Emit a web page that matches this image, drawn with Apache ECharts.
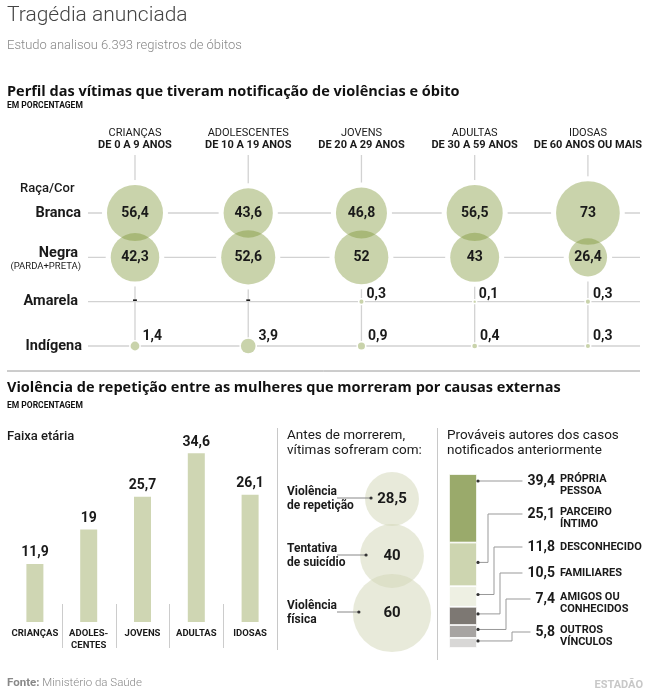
<!DOCTYPE html>
<html><head><meta charset="utf-8">
<script src="https://cdn.jsdelivr.net/npm/echarts@6/dist/echarts.min.js"></script>
<style>html,body{margin:0;padding:0;background:#fff}#c{width:657px;height:697px}</style>
</head><body><div id="c"></div>
<script>
// ---------- DATA ----------
const ageGroups = ['CRIANÇAS','ADOLESCENTES','JOVENS','ADULTAS','IDOSAS'];
const ageRanges = ['DE 0 A 9 ANOS','DE 10 A 19 ANOS','DE 20 A 29 ANOS','DE 30 A 59 ANOS','DE 60 ANOS OU MAIS'];
const races = ['Branca','Negra','Amarela','Indígena'];
const branca = [56.4,43.6,46.8,56.5,73];
const negra = [42.3,52.6,52,43,26.4];
const amarela = [null,null,0.3,0.1,0.3];
const indigena = [1.4,3.9,0.9,0.4,0.3];
const barCats = ['CRIANÇAS','ADOLES-\nCENTES','JOVENS','ADULTAS','IDOSAS'];
const barVals = [11.9,19,25.7,34.6,26.1];
const priorCats = ['Violência\nde repetição','Tentativa\nde suicídio','Violência\nfísica'];
const priorVals = [28.5,40,60];
const authorCats = ['PRÓPRIA\nPESSOA','PARCEIRO\nÍNTIMO','DESCONHECIDO','FAMILIARES','AMIGOS OU\nCONHECIDOS','OUTROS\nVÍNCULOS'];
const authorVals = [39.4,25.1,11.8,10.5,7.4,5.8];

// ---------- HELPERS ----------
const FF = 'Roboto';
const fmt = v => String(v).replace('.', ',');
const mctx = document.createElement('canvas').getContext('2d');
const tw = (t, font) => { mctx.font = font; return mctx.measureText(t).width; };
const DARK = '#1a1a1a';
const authorColors = ['#9aaa6b','#cdd5b0','#eef0e3','#7d7873','#a7a4a2','#d8d7d6'];

const chart = echarts.init(document.getElementById('c'), null, {renderer:'canvas'});

const rows = [branca, negra, amarela, indigena];
const topSize = v => v > 0 ? 7.46 * Math.sqrt(v) : 0;
const topPoints = [];
rows.forEach((arr, r) => arr.forEach((v, i) => topPoints.push([i, r, v == null ? 0 : v])));
const smallOffsets = {2: -7, 3: -10};

const series = [];
// halos
series.push({
  type:'scatter', xAxisIndex:0, yAxisIndex:0, z:2, silent:true,
  data: topPoints,
  symbolSize: val => { const d = topSize(val[2]); return d === 0 ? 0 : (d > 20 ? d + 10 : d + 3); },
  itemStyle:{color:'#fff', opacity:1}
});
rows.forEach((arr, r) => {
  series.push({
    type:'scatter', name: races[r], xAxisIndex:0, yAxisIndex:0, z:3, silent:true,
    data: arr.map((v, i) => {
      const item = {value:[i, r, v == null ? 0 : v], missing: v == null};
      if (v == null) item.label = {position:'inside', offset:[0,0]};
      return item;
    }),
    symbolSize: val => topSize(val[2]),
    itemStyle:{color:'rgba(120,145,45,0.4)', opacity:1},
    label:{
      show:true, opacity:1,
      position: r < 2 ? 'inside' : 'right',
      distance: 3,
      offset: r < 2 ? [0,0] : [0, smallOffsets[r]],
      color: DARK, fontFamily: FF, fontWeight:'bold', fontSize:14,
      formatter: p => p.data.missing ? '-' : fmt(p.value[2])
    }
  });
});
// bar chart
series.push({
  type:'bar', xAxisIndex:1, yAxisIndex:1, data: barVals, barWidth:17, silent:true,
  itemStyle:{color:'#cfd6b3'},
  label:{show:true, position:'top', distance:4, color:DARK, fontFamily:FF, fontWeight:'bold', fontSize:14, formatter:p => fmt(p.value)}
});
// prior bubbles
series.push({
  type:'scatter', xAxisIndex:2, yAxisIndex:2, silent:true, z:3,
  data: priorVals.map((v, i) => [0, i, v]),
  symbolSize: val => 10.1 * Math.sqrt(val[2]),
  itemStyle:{color:'rgba(209,213,181,0.5)', opacity:1},
  label:{show:true, opacity:1, position:'inside', color:DARK, fontFamily:FF, fontWeight:'bold', fontSize:15, formatter:p => fmt(p.value[2])}
});
// stacked authors
authorVals.forEach((v, i) => {
  series.push({
    type:'bar', xAxisIndex:3, yAxisIndex:3, stack:'a', barWidth:28, silent:true,
    data:[v], itemStyle:{color:authorColors[i], borderColor:'#fff', borderWidth:0.8}
  });
});

chart.setOption({
  animation:false,
  backgroundColor:'#fff',
  grid:[
    {left:88, top:213, width:552, height:133},
    {left:8, top:427, width:269, height:195},
    {left:352, top:499, width:80, height:114},
    {left:449, top:474, width:28, height:174}
  ],
  xAxis:[
    {gridIndex:0, type:'value', min:-0.415, max:4.46, show:false},
    {gridIndex:1, type:'category', data:barCats, axisLine:{show:false}, axisTick:{show:false},
      axisLabel:{interval:0, margin:6, color:DARK, fontFamily:FF, fontWeight:'bold', fontSize:9.5, lineHeight:12, verticalAlign:'top'}},
    {gridIndex:2, type:'category', data:['x'], show:false},
    {gridIndex:3, type:'category', data:['x'], show:false}
  ],
  yAxis:[
    {gridIndex:0, type:'value', min:0, max:3, inverse:true, show:false},
    {gridIndex:1, type:'value', min:0, max:40, show:false},
    {gridIndex:2, type:'category', data:priorCats, inverse:true, boundaryGap:false, show:false},
    {gridIndex:3, type:'value', min:0, max:100, inverse:true, show:false}
  ],
  series
});

// ---------- ANNOTATIONS ----------
const G = [];
const text = (t, x, y, font, opts={}) => G.push({type:'text', z:10, silent:true,
  style:Object.assign({text:t, x, y, font, fill:DARK, textAlign:'left', textVerticalAlign:'middle'}, opts)});
const line = (x1,y1,x2,y2,stroke,lw=1,z=1) => G.push({type:'line', z, silent:true, shape:{x1,y1,x2,y2}, style:{stroke, lineWidth:lw}});

const HF = `bold 14.5px "Open Sans"`;
text('Tragédia anunciada', 7, 16, `300 21px ${FF}`, {fill:'#444'});
text('Estudo analisou 6.393 registros de óbitos', 7, 46, `300 13px ${FF}`, {fill:'#888'});
text('Perfil das vítimas que tiveram notificação de violências e óbito', 7, 92, HF, {fill:'#111'});
text('EM PORCENTAGEM', 7, 106, `bold 8.5px ${FF}`, {fill:'#111'});

// top grid lines
const p0 = (x, y) => chart.convertToPixel({gridIndex:0}, [x, y]);
const gridL = 88, gridR = 640;
races.forEach((_, r) => { const y = p0(0, r)[1]; line(gridL, y, gridR, y, '#d2d2d2', 1.3); });
ageGroups.forEach((g, i) => {
  const x = p0(i, 0)[0];
  line(x, 155, x, p0(i, 3)[1], '#d2d2d2', 1.3);
  text(g, x, 133, `11px ${FF}`, {textAlign:'center'});
  text(ageRanges[i], x, 145, `bold 11px ${FF}`, {textAlign:'center'});
});
text('Raça/Cor', 20, 189, `500 13px ${FF}`);
const labR = 81;
text('Branca', labR, p0(0,0)[1], `bold 14.5px ${FF}`, {textAlign:'right'});
text('Negra', labR - 3, p0(0,1)[1] - 4, `bold 14.5px ${FF}`, {textAlign:'right'});
text('(PARDA+PRETA)', labR, p0(0,1)[1] + 9, `9.5px ${FF}`, {textAlign:'right'});
text('Amarela', labR - 3, p0(0,2)[1], `bold 14.5px ${FF}`, {textAlign:'right'});
text('Indígena', labR + 1, p0(0,3)[1], `bold 14.5px ${FF}`, {textAlign:'right'});

// section 2
line(7, 371, 640, 371, '#9a9a9a', 1);
text('Violência de repetição entre as mulheres que morreram por causas externas', 7, 388, HF, {fill:'#111'});
text('EM PORCENTAGEM', 7, 406, `bold 8.5px ${FF}`, {fill:'#111'});
text('Faixa etária', 7, 437, `500 13px ${FF}`);

// bar separators
const p1 = (x, y) => chart.convertToPixel({gridIndex:1}, [x, y]);
for (let i = 0; i < barCats.length - 1; i++) {
  const x = Math.round((p1(i, 0)[0] + p1(i + 1, 0)[0]) / 2) + 0.5;
  line(x, 604, x, 648, '#cccccc', 1);
}
line(277.5, 428, 277.5, 650, '#c8c8c8', 1);
line(437.5, 428, 437.5, 660, '#c8c8c8', 1);

// middle panel
text('Antes de morrerem,', 287, 436, `13.5px ${FF}`);
text('vítimas sofreram com:', 287, 451, `13.5px ${FF}`);
const p2 = (x, y) => chart.convertToPixel({gridIndex:2}, [x, y]);
priorCats.forEach((c, i) => {
  const [cx, cy] = p2(0, i);
  const r = 10.1 * Math.sqrt(priorVals[i]) / 2;
  const parts = c.split('\n');
  text(parts[0], 287, cy - 7, `bold 12px ${FF}`);
  text(parts[1], 287, cy + 7, `bold 12px ${FF}`);
  const dx = cx - r + 6;
  line(337, cy - 1, dx, cy - 1, '#888', 1, 11);
  G.push({type:'circle', z:11, silent:true, shape:{cx:dx, cy:cy - 1, r:1.6}, style:{fill:'#333'}});
});

// right panel
text('Prováveis autores dos casos', 447, 436, `13.5px ${FF}`);
text('notificados anteriormente', 447, 451, `13.5px ${FF}`);
const p3 = (y) => chart.convertToPixel({gridIndex:3}, [0, y]);
const barRight = 477;
let cum = 0;
let labelY = p3(0)[1] + 7;
authorVals.forEach((v, i) => {
  const yTop = p3(cum)[1], yBot = p3(cum + v)[1];
  cum += v;
  const parts = authorCats[i].split('\n');
  const vt = fmt(v);
  const vfont = `bold 14px ${FF}`;
  text(vt, 555, labelY, vfont, {textAlign:'right'});
  if (parts.length === 2) {
    text(parts[0], 560, labelY - 2, `bold 11px ${FF}`);
    text(parts[1], 560, labelY + 10, `bold 11px ${FF}`);
  } else {
    text(parts[0], 560, labelY, `bold 11px ${FF}`);
  }
  const dotY = (labelY >= yTop && labelY <= yBot) ? labelY : (yTop + yBot) / 2 - 2;
  const endX = 555 - tw(vt, vfont) - 5;
  const ex = barRight + 5 + 6 * i;
  const pts = dotY === labelY ? [[barRight + 1, dotY], [endX, labelY]]
    : [[barRight + 1, dotY], [ex, dotY], [ex, labelY], [endX, labelY]];
  G.push({type:'polyline', z:11, silent:true, shape:{points:pts}, style:{stroke:'#999', lineWidth:1, fill:null}});
  G.push({type:'circle', z:12, silent:true, shape:{cx:barRight + 1, cy:dotY, r:1.6}, style:{fill:'#333'}});
  labelY += parts.length === 2 ? 33 : 26;
});

// footer
const fb = `bold 11.5px ${FF}`;
text('Fonte:', 7, 683, fb, {fill:'#888'});
text('Ministério da Saúde', 7 + tw('Fonte: ', fb), 683, `300 11.5px ${FF}`, {fill:'#888'});
text('ESTADÃO', 643, 685, `bold 11px ${FF}`, {fill:'#c8c8c8', textAlign:'right'});

chart.setOption({graphic:{elements:G}});
</script></body></html>
